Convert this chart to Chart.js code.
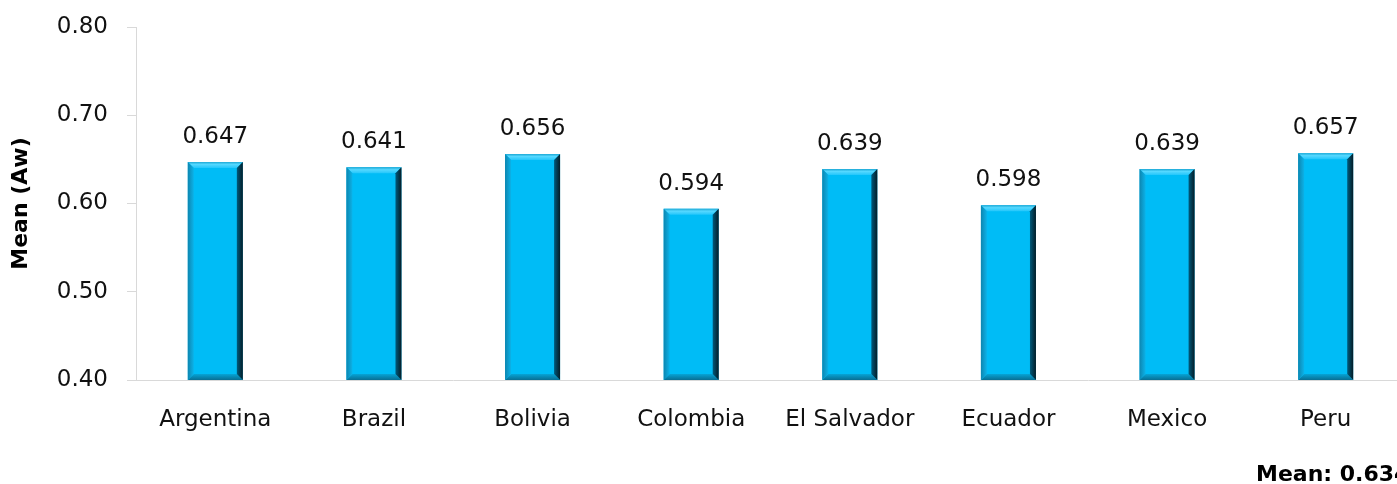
<!DOCTYPE html>
<html>
<head>
<meta charset="utf-8">
<script src="https://cdn.jsdelivr.net/npm/chart.js@4.4.1/dist/chart.umd.min.js"></script>
<style>
html,body{margin:0;padding:0;overflow:hidden;background:#fff;width:1397px;height:484px;}
#wrap{width:1410px;height:484px;}
</style>
</head>
<body>
<div id="wrap"><canvas id="c" width="1410" height="484"></canvas></div>
<script>
const categories = ["Argentina","Brazil","Bolivia","Colombia","El Salvador","Ecuador","Mexico","Peru"];
const meanValues = [0.647,0.641,0.656,0.594,0.639,0.598,0.639,0.657];
const valueLabels = ["0.647","0.641","0.656","0.594","0.639","0.598","0.639","0.657"];
const yTicks = [0.40,0.50,0.60,0.70,0.80];
const overallMeanText = "Mean: 0.634";
const yTitle = "Mean (Aw)";

function barFill(ctx){
  const chart = ctx.chart;
  const el = ctx.element;
  if(!el || el.x === undefined || isNaN(el.x)) return '#00BCF6';
  const w = el.width || 55;
  const x0 = el.x - w/2, x1 = el.x + w/2;
  const g = chart.ctx.createLinearGradient(x0,0,x1,0);
  g.addColorStop(0,'#0a8fbd');
  g.addColorStop(0.06,'#08aee2');
  g.addColorStop(0.12,'#02bcf7');
  g.addColorStop(0.74,'#00bbf5');
  g.addColorStop(0.84,'#0096c6');
  g.addColorStop(0.92,'#005272');
  g.addColorStop(1,'#06202c');
  return g;
}

const bevelPlugin = {
  id:'bevel',
  afterDatasetsDraw(chart){
    const c = chart.ctx;
    const area = chart.chartArea;
    const meta = chart.getDatasetMeta(0);
    meta.data.forEach(el=>{
      const p = el.getProps(['x','y','base','width'], true);
      const w = p.width, x0 = p.x - w/2, x1 = p.x + w/2, top = p.y;
      const base = Math.min(p.base, area.bottom);
      const b = 6;
      c.save();
      c.beginPath();
      c.moveTo(x0,top); c.lineTo(x1,top); c.lineTo(x1-b,top+b); c.lineTo(x0+b,top+b); c.closePath();
      const gt = c.createLinearGradient(0,top,0,top+b);
      gt.addColorStop(0,'#1ea9d6'); gt.addColorStop(0.4,'#55d8ff'); gt.addColorStop(1,'#22c6fb');
      c.fillStyle = gt; c.fill();
      c.beginPath();
      c.moveTo(x0,base); c.lineTo(x1,base); c.lineTo(x1-b,base-b); c.lineTo(x0+b,base-b); c.closePath();
      const gb = c.createLinearGradient(0,base-b,0,base);
      gb.addColorStop(0,'#06a4d6'); gb.addColorStop(1,'#086f94');
      c.fillStyle = gb; c.fill();
      c.beginPath();
      c.moveTo(x1,top); c.lineTo(x1,base); c.lineTo(x1-b,base-b); c.lineTo(x1-b,top+b); c.closePath();
      const gr = c.createLinearGradient(x1-b,0,x1,0);
      gr.addColorStop(0,'#005a7c'); gr.addColorStop(1,'#041c26');
      c.fillStyle = gr; c.fill();
      c.beginPath();
      c.moveTo(x0,top); c.lineTo(x0,base); c.lineTo(x0+b,base-b); c.lineTo(x0+b,top+b); c.closePath();
      const gl = c.createLinearGradient(x0,0,x0+b,0);
      gl.addColorStop(0,'#0d86b0'); gl.addColorStop(1,'#0cb2e8');
      c.fillStyle = gl; c.fill();
      c.restore();
    });
  }
};

const labelPlugin = {
  id:'valLabels',
  afterDatasetsDraw(chart){
    const c = chart.ctx;
    const meta = chart.getDatasetMeta(0);
    c.save();
    c.font = '23px "DejaVu Sans"';
    c.fillStyle = '#111';
    c.textAlign = 'center';
    c.textBaseline = 'middle';
    meta.data.forEach((el,i)=>{
      const p = el.getProps(['x','y'], true);
      c.fillText(valueLabels[i], p.x, p.y - 25);
    });
    c.restore();
  }
};

const meanPlugin = {
  id:'meanText',
  afterDraw(chart){
    const c = chart.ctx;
    c.save();
    c.font = 'bold 22px "DejaVu Sans"';
    c.fillStyle = '#000';
    c.textAlign = 'left';
    c.textBaseline = 'alphabetic';
    c.fillText(overallMeanText, 1256, 481);
    c.restore();
  }
};

new Chart(document.getElementById('c'),{
  type:'bar',
  data:{
    labels:categories,
    datasets:[{
      data:meanValues,
      backgroundColor:barFill,
      borderWidth:0,
      barPercentage:1,
      categoryPercentage:0.347
    }]
  },
  options:{
    responsive:false,
    animation:false,
    layout:{padding:{top:27,right:5,bottom:0,left:0}},
    plugins:{legend:{display:false},tooltip:{enabled:false}},
    scales:{
      x:{
        grid:{display:false},
        border:{display:true,color:'#d9d9d9',width:1},
        ticks:{color:'#111',font:{family:'DejaVu Sans',size:23},padding:18,maxRotation:0,autoSkip:false},
        afterFit(s){s.height=104;s.paddingLeft=0;s.paddingRight=0;}
      },
      y:{
        min:0.40,max:0.80,
        afterBuildTicks(s){s.ticks = yTicks.map(v=>({value:v}));},
        grid:{drawOnChartArea:false,tickLength:9,color:'#d9d9d9'},
        border:{display:true,color:'#d9d9d9',width:1},
        ticks:{color:'#111',font:{family:'DejaVu Sans',size:23},padding:19,callback:v=>Number(v).toFixed(2)},
        title:{display:true,text:yTitle,color:'#000',font:{family:'DejaVu Sans',size:22,weight:'bold'},padding:{top:8,bottom:0}},
        afterFit(s){s.width=136;s.paddingTop=0;s.paddingBottom=0;}
      }
    }
  },
  plugins:[bevelPlugin,labelPlugin,meanPlugin]
});
</script>
</body>
</html>
